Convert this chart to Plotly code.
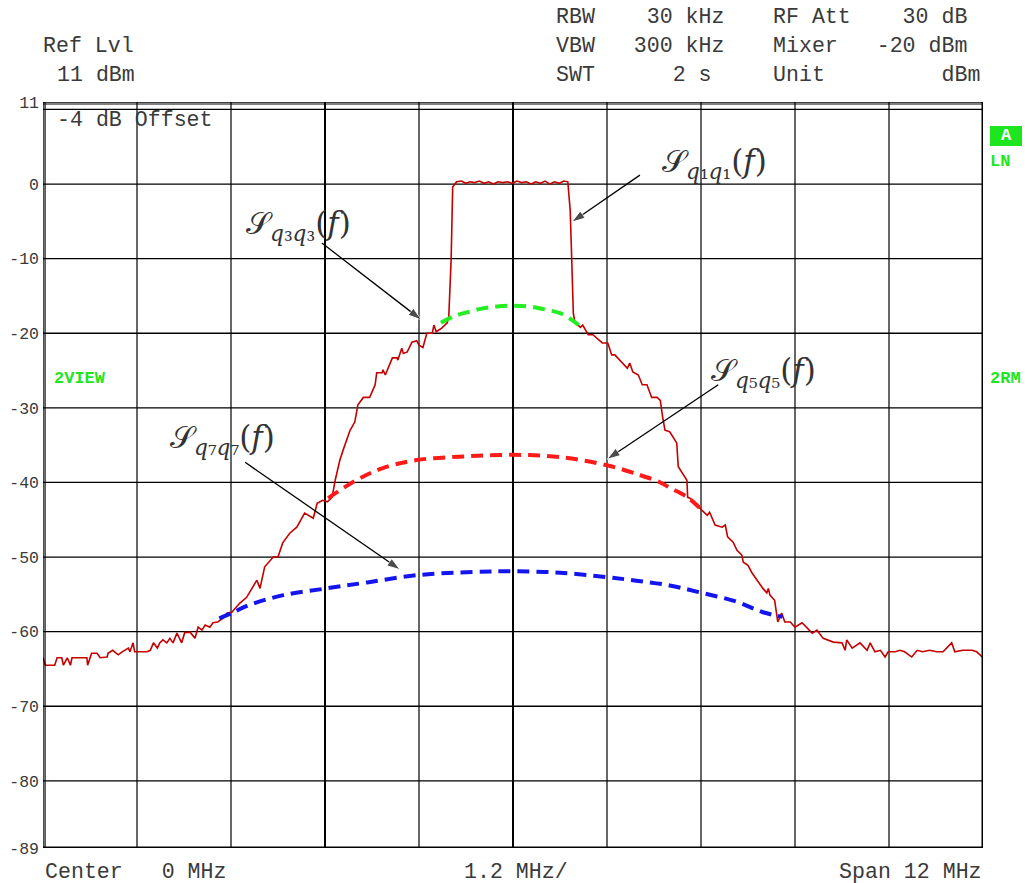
import plotly.graph_objects as go

# ---------------- data ----------------
# measured spectrum trace: frequency offset (MHz) and level (dBm)
freq_mhz = [
    -6.00, -5.97, -5.85, -5.82, -5.76, -5.74, -5.69, -5.65, -5.63, -5.44, -5.43, -5.38, -5.31, -5.27,
    -5.18, -5.17, -5.11, -5.04, -4.99, -4.91, -4.89, -4.85, -4.83, -4.67, -4.63, -4.59, -4.54, -4.51,
    -4.47, -4.42, -4.38, -4.34, -4.29, -4.23, -4.19, -4.12, -4.06, -4.02, -3.97, -3.93, -3.87, -3.83,
    -3.77, -3.70, -3.65, -3.59, -3.49, -3.40, -3.27, -3.23, -3.17, -3.06, -3.00, -2.94, -2.85, -2.76,
    -2.66, -2.55, -2.50, -2.43, -2.37, -2.31, -2.27, -2.21, -2.17, -2.08, -2.02, -1.98, -1.91, -1.83,
    -1.76, -1.74, -1.67, -1.66, -1.63, -1.54, -1.48, -1.47, -1.42, -1.40, -1.35, -1.29, -1.23, -1.20,
    -1.15, -1.10, -1.03, -1.01, -0.98, -0.91, -0.84, -0.82, -0.79, -0.77,
    -0.72, -0.66, -0.60, -0.55, -0.49, -0.43, -0.37, -0.31, -0.25, -0.19, -0.13, -0.07, -0.01, 0.05,
    0.11, 0.17, 0.23, 0.29, 0.35, 0.41, 0.47, 0.53, 0.59, 0.65, 0.70,
    0.73, 0.75, 0.77, 0.79, 0.86, 0.89, 0.96, 1.02, 1.09, 1.14, 1.21, 1.26, 1.30, 1.39, 1.46, 1.49,
    1.53, 1.60, 1.65, 1.71, 1.77, 1.84, 1.88, 1.91, 1.94, 2.00, 2.04, 2.09, 2.11, 2.16, 2.22, 2.23,
    2.26, 2.41, 2.48, 2.51, 2.58, 2.67, 2.71, 2.74, 2.81, 2.86, 2.92, 2.94, 3.00, 3.05, 3.13, 3.19,
    3.24, 3.26, 3.28, 3.34, 3.38, 3.43, 3.47, 3.54, 3.60, 3.69, 3.82, 3.88, 3.96, 4.09, 4.20, 4.24,
    4.26, 4.33, 4.43, 4.52, 4.56, 4.62, 4.69, 4.75, 4.79, 4.88, 4.94, 5.00, 5.09, 5.16, 5.23, 5.32,
    5.41, 5.49, 5.60, 5.64, 5.74, 5.86, 5.92, 5.99,
]
level_dbm = [
    -63.5, -64.5, -64.5, -63.5, -63.5, -64.5, -63.5, -64.5, -63.5, -63.5, -64.5, -62.9, -62.9, -63.5,
    -63.4, -62.9, -62.5, -63.1, -62.7, -62.2, -62.7, -61.5, -62.7, -62.7, -62.5, -61.5, -62.2, -61.5,
    -61.1, -61.5, -60.9, -61.5, -60.2, -61.5, -60.1, -60.1, -60.9, -59.4, -59.8, -59.1, -59.4, -58.8,
    -58.7, -58.2, -57.5, -57.4, -56.2, -55.4, -53.1, -54.2, -51.3, -50.0, -50.0, -48.1, -46.8, -46.0,
    -44.1, -44.8, -42.8, -42.4, -42.6, -42.0, -39.7, -37.0, -35.7, -33.0, -31.9, -29.6, -28.6, -28.6,
    -26.9, -25.3, -25.3, -24.9, -25.6, -23.3, -23.3, -23.6, -22.0, -22.7, -22.5, -21.2, -21.0, -21.6,
    -21.9, -20.0, -20.0, -18.9, -19.8, -19.3, -18.6, -17.8, -10.2, -0.4,
    0.3, 0.4, 0.1, 0.3, 0.2, 0.4, 0.1, 0.3, 0.0, 0.3, 0.2, 0.3, 0.1, 0.4,
    0.2, 0.3, 0.0, 0.3, 0.1, 0.4, 0.0, 0.3, 0.1, 0.4, 0.3,
    -3.5, -10.2, -17.3, -18.5, -19.2, -18.9, -20.2, -20.2, -20.9, -21.3, -21.3, -22.9, -22.9, -23.9, -24.7, -24.0,
    -25.2, -25.6, -26.9, -26.9, -28.6, -28.6, -29.0, -31.2, -33.0, -33.2, -33.9, -34.7, -37.9, -38.7, -39.7, -42.0,
    -42.1, -43.7, -44.4, -44.0, -45.7, -46.0, -45.7, -47.3, -48.0, -49.1, -49.7, -50.7, -51.1, -52.1, -53.4, -54.2,
    -54.8, -54.2, -55.1, -55.8, -58.7, -57.5, -58.7, -58.7, -59.4, -58.8, -60.2, -59.8, -60.9, -61.4, -61.5, -62.5,
    -61.1, -62.2, -61.5, -62.5, -61.5, -62.7, -62.5, -63.4, -62.7, -62.7, -62.5, -62.7, -63.4, -62.5, -62.7, -62.5,
    -62.7, -62.7, -61.5, -62.7, -62.5, -62.5, -62.7, -63.4,
]

# third-order component S_q3q3 (green dashed)
q3_freq = [-0.92, -0.75, -0.59, -0.40, -0.20, 0.00, 0.20, 0.40, 0.60, 0.75, 0.86]
q3_level = [-18.6, -17.7, -17.2, -16.7, -16.4, -16.3, -16.4, -16.8, -17.3, -18.2, -19.1]

# fifth-order component S_q5q5 (red dashed)
q5_freq = [-2.36, -2.00, -1.67, -1.23, -0.60, 0.00, 0.60, 1.20, 1.62, 1.88, 2.00, 2.23, 2.41]
q5_level = [-42.1, -39.7, -38.1, -37.0, -36.5, -36.3, -36.6, -37.7, -39.0, -40.0, -40.7, -42.0, -43.7]

# seventh-order component S_q7q7 (blue dashed)
q7_freq = [-3.75, -3.59, -3.36, -2.93, -2.38, -1.86, -1.20, -0.50, 0.00, 0.60, 1.20, 1.60, 2.00, 2.37, 2.86, 3.19, 3.44]
q7_level = [-58.2, -57.5, -56.4, -55.1, -54.2, -53.4, -52.4, -52.0, -51.9, -52.1, -52.7, -53.2, -53.8, -54.7, -56.0, -57.4, -58.0]

# axis ticks
y_tickvals = [11, 0, -10, -20, -30, -40, -50, -60, -70, -80, -89]
y_ticktext = ["11", "0", "-10", "-20", "-30", "-40", "-50", "-60", "-70", "-80", "-89"]
x_grid = [-4.8, -3.6, -2.4, -1.2, 0.0, 1.2, 2.4, 3.6, 4.8]
y_grid = [10, 0, -10, -20, -30, -40, -50, -60, -70, -80]

# curve labels: (order, label x, label y, arrow tail x, tail y, arrow tip x, tip y)
labels = [
    ("1", 2.57, 2.8, 1.62, 1.2, 0.75, -5.1),
    ("3", -2.74, -5.5, -2.44, -7.9, -1.17, -18.2),
    ("5", 3.20, -25.3, 2.62, -26.9, 1.20, -36.9),
    ("7", -3.71, -34.3, -3.42, -37.3, -1.44, -51.7),
]

# ---------------- figure ----------------
W, H = 1025, 883
MONO = "Liberation Mono, Courier New, monospace"
TXT = "#3a3a3a"
GREEN = "#1ee61e"


def px(x):
    return x / W


def py(y):
    return 1 - y / H


fig = go.Figure()
fig.add_trace(go.Scatter(x=freq_mhz, y=level_dbm, mode="lines",
                         line=dict(color="#c40000", width=1.6), hoverinfo="skip"))
fig.add_trace(go.Scatter(x=q3_freq, y=q3_level, mode="lines",
                         line=dict(color="#22ee22", width=4, dash="12px,7px", shape="spline"), hoverinfo="skip"))
fig.add_trace(go.Scatter(x=q5_freq, y=q5_level, mode="lines",
                         line=dict(color="#ff1a1a", width=4, dash="12px,7px", shape="spline"), hoverinfo="skip"))
fig.add_trace(go.Scatter(x=q7_freq, y=q7_level, mode="lines",
                         line=dict(color="#1414ee", width=4, dash="12px,7px", shape="spline"), hoverinfo="skip"))

# label arrows (line + arrowhead marker at the tip)
for n, lx, ly, tx, ty, hx, hy in labels:
    fig.add_trace(go.Scatter(x=[tx, hx], y=[ty, hy], mode="lines+markers", hoverinfo="skip",
                             line=dict(color="#000000", width=1.3),
                             marker=dict(symbol="arrow", size=[0, 14], color="#000000",
                                         angleref="previous", standoff=0)))

shapes = []
for v in x_grid:
    shapes.append(dict(type="line", xref="x", yref="y", x0=v, x1=v, y0=-89, y1=11, layer="below",
                       line=dict(color="#000000", width=2.0 if v in (-2.4, 0.0) else 1.2)))
for h in y_grid:
    shapes.append(dict(type="line", xref="x", yref="y", x0=-6, x1=6, y0=h, y1=h, layer="below",
                       line=dict(color="#000000", width=1.3)))
# frame: double line top / left, heavy right / bottom
shapes += [
    dict(type="line", xref="x", yref="y", x0=-6, x1=6, y0=11, y1=11, line=dict(color="#000", width=1.4)),
    dict(type="line", xref="x", yref="y", x0=-6, x1=6, y0=10.73, y1=10.73, line=dict(color="#000", width=1.2)),
    dict(type="line", xref="x", yref="y", x0=-6, x1=-6, y0=-89, y1=11, line=dict(color="#000", width=1.4)),
    dict(type="line", xref="x", yref="y", x0=-5.974, x1=-5.974, y0=-89, y1=11, line=dict(color="#000", width=1.2)),
    dict(type="line", xref="x", yref="y", x0=6, x1=6, y0=-89, y1=11, line=dict(color="#000", width=3)),
    dict(type="line", xref="x", yref="y", x0=-6, x1=6, y0=-89, y1=-89, line=dict(color="#000", width=3.2)),
]
# green "A" box
shapes.append(dict(type="rect", xref="paper", yref="paper", x0=px(990), x1=px(1022), y0=py(146), y1=py(126),
                   fillcolor=GREEN, line=dict(width=0)))

ann = []


def text(x, y, s, size=21.6, color=TXT, family=MONO, anchor="left"):
    ann.append(dict(xref="paper", yref="paper", x=px(x), y=py(y), text=s, showarrow=False,
                    xanchor=anchor, yanchor="middle", font=dict(family=family, size=size, color=color),
                    borderpad=0))


text(42, 46, "Ref Lvl")
text(56, 75, "11 dBm")
text(555, 17, "RBW    30 kHz")
text(555, 46, "VBW   300 kHz")
text(555, 75, "SWT      2 s")
text(772, 17, "RF Att    30 dB")
text(772, 46, "Mixer   -20 dBm")
text(772, 75, "Unit         dBm")
text(56, 120, "-4 dB Offset")
text(44, 872, "Center   0 MHz")
text(463, 872, "1.2 MHz/")
text(838, 872, "Span 12 MHz")

text(53, 378, "<b>2VIEW</b>", size=17, color=GREEN)
text(989, 378, "<b>2RM</b>", size=17, color=GREEN)
text(989, 161, "<b>LN</b>", size=17, color=GREEN)
text(1006, 136, "<b>A</b>", size=17, color="#ffffff", anchor="center")

SERIF = "DejaVu Serif, Liberation Serif, serif"
for n, lx, ly, tx, ty, hx, hy in labels:
    sub = {"1": "₁", "3": "₃", "5": "₅", "7": "₇"}[n]
    ann.append(dict(xref="x", yref="y", x=lx, y=ly, showarrow=False, xanchor="center", yanchor="middle",
                    text=f"𝒮<sub><i>q</i>{sub}<i>q</i>{sub}</sub>(<i>f</i>)",
                    font=dict(family=SERIF, size=31, color="#333333")))

fig.update_layout(
    width=W, height=H, margin=dict(l=0, r=0, t=0, b=0, autoexpand=False),
    paper_bgcolor="#ffffff", plot_bgcolor="#ffffff", showlegend=False,
    shapes=shapes, annotations=ann,
    xaxis=dict(domain=[px(43), px(983)], range=[-6, 6], showgrid=False, zeroline=False, automargin=False,
               showticklabels=False, ticks="", showline=False, fixedrange=True),
    yaxis=dict(domain=[py(848), py(102)], range=[-89, 11], showgrid=False, zeroline=False, automargin=False,
               tickvals=y_tickvals, ticktext=y_ticktext, ticks="", showline=False,
               tickfont=dict(family=MONO, size=16.5, color=TXT), ticklabelstandoff=3, fixedrange=True),
)

fig.write_html("out.html")
